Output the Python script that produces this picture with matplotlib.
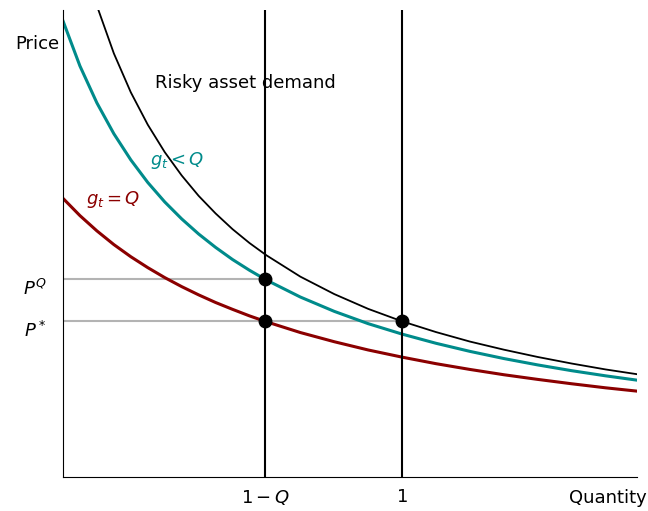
import matplotlib
matplotlib.use("Agg")
import matplotlib.pyplot as plt

# (x: quantity, y: price, P* = 1)
one_minus_Q = 0.596
P_star = 1.0
P_Q = 1.27

black_x = [0.10, 0.15, 0.20, 0.25, 0.30, 0.35, 0.40, 0.45, 0.50, 0.55, 0.60,
           0.70, 0.80, 0.90, 1.00, 1.10, 1.20, 1.30, 1.40, 1.50, 1.60, 1.70]
black_y = [3.027, 2.721, 2.471, 2.263, 2.087, 1.937, 1.806, 1.693, 1.592, 1.503, 1.424,
           1.287, 1.175, 1.080, 1.000, 0.931, 0.870, 0.818, 0.771, 0.729, 0.691, 0.658]

teal_x = [0.00, 0.05, 0.10, 0.15, 0.20, 0.25, 0.30, 0.35, 0.40, 0.45, 0.50, 0.55, 0.60,
          0.70, 0.80, 0.90, 1.00, 1.10, 1.20, 1.30, 1.40, 1.50, 1.60, 1.70]
teal_y = [2.930, 2.640, 2.403, 2.205, 2.037, 1.892, 1.767, 1.658, 1.561, 1.475, 1.397,
          1.328, 1.265, 1.156, 1.064, 0.985, 0.918, 0.859, 0.807, 0.761, 0.720, 0.683,
          0.650, 0.620]

red_x = [0.00, 0.05, 0.10, 0.15, 0.20, 0.25, 0.30, 0.35, 0.40, 0.45, 0.50, 0.55, 0.60,
         0.70, 0.80, 0.90, 1.00, 1.10, 1.20, 1.30, 1.40, 1.50, 1.60, 1.70]
red_y = [1.790, 1.679, 1.581, 1.493, 1.415, 1.345, 1.281, 1.223, 1.170, 1.121, 1.077,
         1.035, 0.997, 0.928, 0.869, 0.816, 0.770, 0.728, 0.691, 0.657, 0.627, 0.599,
         0.573, 0.550]

dots_x = [one_minus_Q, one_minus_Q, 1.0]
dots_y = [P_Q, P_star, P_star]

fig = plt.figure(figsize=(6.48, 5.11), dpi=100)
ax = fig.add_axes([0.0972, 0.0665, 0.886, 0.914])

ax.plot(black_x, black_y, color="black", lw=1.3)
ax.plot(teal_x, teal_y, color="darkcyan", lw=2.2)
ax.plot(red_x, red_y, color="darkred", lw=2.2)

ax.axvline(one_minus_Q, color="black", lw=1.5)
ax.axvline(1.0, color="black", lw=1.5)
ax.plot([0, one_minus_Q], [P_Q, P_Q], color="0.7", lw=1.5, zorder=1)
ax.plot([0, 1.0], [P_star, P_star], color="0.7", lw=1.5, zorder=1)
ax.plot(dots_x, dots_y, "o", color="black", ms=9, zorder=5)

ax.set_xlim(0, 1.693)
ax.set_ylim(0, 3)
ax.spines["top"].set_visible(False)
ax.spines["right"].set_visible(False)

ax.set_xticks([one_minus_Q, 1.0])
ax.set_xticklabels(["$1 - Q$", "$1$"], fontsize=13)
ax.set_yticks([P_Q, P_star])
ax.set_yticklabels(["$P^Q$", "$P^*$"], fontsize=13)
for lab in ax.get_yticklabels():
    lab.set_va("top")
ax.tick_params(axis="x", length=0, pad=8)
ax.tick_params(axis="y", length=0, pad=12)

ax.text(-0.012, 2.78, "Price", ha="right", va="center", fontsize=13)
ax.text(1.608, -0.135, "Quantity", ha="center", va="center", fontsize=13, clip_on=False)
ax.text(0.271, 2.53, "Risky asset demand", ha="left", va="center", fontsize=13)
ax.text(0.257, 2.03, "$g_t < Q$", color="darkcyan", ha="left", va="center", fontsize=13)
ax.text(0.068, 1.78, "$g_t = Q$", color="darkred", ha="left", va="center", fontsize=13)

fig.savefig("out.png", dpi=100)
